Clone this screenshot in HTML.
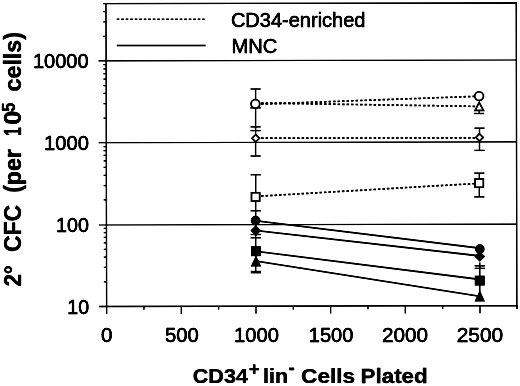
<!DOCTYPE html>
<html lang="en"><head><meta charset="utf-8"><title>CFC chart</title>
<style>html,body{margin:0;padding:0;background:#fff}svg{display:block}</style>
</head><body>
<svg width="520" height="386" viewBox="0 0 520 386">
<defs><filter id="scan" x="0" y="0" width="520" height="386" filterUnits="userSpaceOnUse" color-interpolation-filters="sRGB"><feGaussianBlur stdDeviation="0.45"/><feComponentTransfer><feFuncA type="linear" slope="1.35" intercept="0"/></feComponentTransfer></filter></defs>
<rect width="520" height="386" fill="#fff"/>
<g filter="url(#scan)">
<g transform="rotate(-0.126 311 155)">
<g fill="none" stroke="#000" stroke-width="1.3" stroke-linecap="butt">
<path d="M103.3 3.25H516.55V309.25M106.3 3.25V313.55M98.8 306.05H516.55"/>
</g>
<g fill="none" stroke="#000" stroke-width="1.1">
<line x1="98.7" y1="224.58" x2="516.55" y2="224.58"/>
<line x1="98.7" y1="142.32" x2="516.55" y2="142.32"/>
<line x1="98.7" y1="60.45" x2="516.55" y2="60.45"/>
</g>
<g fill="none" stroke="#000" stroke-width="1.25">
<line x1="103.6" y1="281.41" x2="106.3" y2="281.41"/>
<line x1="103.6" y1="266.99" x2="106.3" y2="266.99"/>
<line x1="103.6" y1="256.76" x2="106.3" y2="256.76"/>
<line x1="103.6" y1="248.83" x2="106.3" y2="248.83"/>
<line x1="103.6" y1="242.35" x2="106.3" y2="242.35"/>
<line x1="103.6" y1="236.86" x2="106.3" y2="236.86"/>
<line x1="103.6" y1="232.12" x2="106.3" y2="232.12"/>
<line x1="103.6" y1="227.93" x2="106.3" y2="227.93"/>
<line x1="103.6" y1="199.54" x2="106.3" y2="199.54"/>
<line x1="103.6" y1="185.12" x2="106.3" y2="185.12"/>
<line x1="103.6" y1="174.89" x2="106.3" y2="174.89"/>
<line x1="103.6" y1="166.96" x2="106.3" y2="166.96"/>
<line x1="103.6" y1="160.48" x2="106.3" y2="160.48"/>
<line x1="103.6" y1="155.00" x2="106.3" y2="155.00"/>
<line x1="103.6" y1="150.25" x2="106.3" y2="150.25"/>
<line x1="103.6" y1="146.06" x2="106.3" y2="146.06"/>
<line x1="103.6" y1="117.67" x2="106.3" y2="117.67"/>
<line x1="103.6" y1="103.26" x2="106.3" y2="103.26"/>
<line x1="103.6" y1="93.03" x2="106.3" y2="93.03"/>
<line x1="103.6" y1="85.09" x2="106.3" y2="85.09"/>
<line x1="103.6" y1="78.61" x2="106.3" y2="78.61"/>
<line x1="103.6" y1="73.13" x2="106.3" y2="73.13"/>
<line x1="103.6" y1="68.38" x2="106.3" y2="68.38"/>
<line x1="103.6" y1="64.20" x2="106.3" y2="64.20"/>
<line x1="103.6" y1="35.81" x2="106.3" y2="35.81"/>
<line x1="103.6" y1="21.39" x2="106.3" y2="21.39"/>
<line x1="103.6" y1="11.16" x2="106.3" y2="11.16"/>
<line x1="143.63" y1="306.05" x2="143.63" y2="309.4"/>
<line x1="180.97" y1="306.05" x2="180.97" y2="313.6"/>
<line x1="218.31" y1="306.05" x2="218.31" y2="309.4"/>
<line x1="255.64" y1="306.05" x2="255.64" y2="313.6"/>
<line x1="292.98" y1="306.05" x2="292.98" y2="309.4"/>
<line x1="330.31" y1="306.05" x2="330.31" y2="313.6"/>
<line x1="367.65" y1="306.05" x2="367.65" y2="309.4"/>
<line x1="404.98" y1="306.05" x2="404.98" y2="313.6"/>
<line x1="442.31" y1="306.05" x2="442.31" y2="309.4"/>
<line x1="479.65" y1="306.05" x2="479.65" y2="313.6"/>
<line x1="516.99" y1="306.05" x2="516.99" y2="309.4"/>
</g>
</g>
<g fill="none" stroke="#000">
<line x1="116.8" y1="19.2" x2="204.6" y2="19.2" stroke-width="1.6" stroke-dasharray="2.5 2.0"/>
<line x1="116.8" y1="45.5" x2="205.6" y2="45.5" stroke-width="1.5"/>
</g>
<g fill="none" stroke="#000" stroke-width="1.3">
<line x1="255.6" y1="89" x2="255.6" y2="156"/>
<line x1="250.5" y1="89" x2="260.7" y2="89"/>
<line x1="250.5" y1="126.9" x2="260.7" y2="126.9"/>
<line x1="250.5" y1="130.6" x2="260.7" y2="130.6"/>
<line x1="250.5" y1="156.0" x2="260.7" y2="156.0"/>
<line x1="255.7" y1="174.75" x2="255.7" y2="272"/>
<line x1="250.6" y1="174.75" x2="260.8" y2="174.75"/>
<line x1="250.6" y1="210.8" x2="260.8" y2="210.8"/>
<line x1="250.6" y1="234.5" x2="260.8" y2="234.5"/>
<line x1="250.6" y1="237.8" x2="260.8" y2="237.8"/>
<line x1="250.8" y1="272.1" x2="261.0" y2="272.1" stroke-width="2.5"/>
<line x1="479.3" y1="106" x2="479.3" y2="113.5"/>
<line x1="474.0" y1="113.5" x2="484.2" y2="113.5"/>
<line x1="479.5" y1="128.1" x2="479.5" y2="150.4"/>
<line x1="474.4" y1="128.1" x2="484.6" y2="128.1"/>
<line x1="474.4" y1="150.4" x2="484.6" y2="150.4"/>
<line x1="479.3" y1="173.1" x2="479.3" y2="196.9"/>
<line x1="474.2" y1="173.1" x2="484.4" y2="173.1"/>
<line x1="474.2" y1="196.9" x2="484.4" y2="196.9"/>
<line x1="479.8" y1="262.5" x2="479.8" y2="296"/>
<line x1="474.7" y1="265.9" x2="484.9" y2="265.9"/>
<line x1="474.7" y1="268.35" x2="484.9" y2="268.35"/>
</g>
<g fill="none" stroke="#000">
<line x1="255.6" y1="104.3" x2="479.5" y2="96.2" stroke-width="1.7" stroke-dasharray="2.5 2.0" stroke-dashoffset="-1"/>
<line x1="255.6" y1="103.0" x2="479.5" y2="106.4" stroke-width="1.7" stroke-dasharray="2.5 2.0" stroke-dashoffset="-1"/>
<line x1="255.6" y1="138.1" x2="479.5" y2="137.9" stroke-width="1.7" stroke-dasharray="2.5 2.0" stroke-dashoffset="-1"/>
<line x1="255.6" y1="196.4" x2="479.5" y2="183.3" stroke-width="1.7" stroke-dasharray="2.5 2.0" stroke-dashoffset="-1"/>
<line x1="255.6" y1="220.7" x2="479.5" y2="248.1" stroke-width="1.65"/>
<line x1="255.6" y1="230.5" x2="479.5" y2="255.9" stroke-width="1.65"/>
<line x1="255.6" y1="251.3" x2="479.5" y2="279.4" stroke-width="1.65"/>
<line x1="255.6" y1="261.0" x2="479.5" y2="296.2" stroke-width="1.65"/>
</g>
<path d="M255.5 100.00L259.60 107.70L251.40 107.70Z" fill="#fff" stroke="#000" stroke-width="1.75" stroke-linejoin="miter"/>
<path d="M479.2 102.70L483.30 110.40L475.10 110.40Z" fill="#fff" stroke="#000" stroke-width="1.75" stroke-linejoin="miter"/>
<circle cx="255.4" cy="103.8" r="4.3" fill="#fff" stroke="#000" stroke-width="1.75"/>
<circle cx="479.1" cy="96.1" r="4.3" fill="#fff" stroke="#000" stroke-width="1.75"/>
<path d="M255.7 134.7L259.3 138.25L255.7 141.8L252.1 138.25Z" fill="#fff" stroke="#000" stroke-width="1.75"/>
<path d="M479.5 133.8L483.1 137.4L479.5 141.0L475.9 137.4Z" fill="#fff" stroke="#000" stroke-width="1.75"/>
<rect x="251.55" y="192.85" width="8.1" height="8.1" fill="#fff" stroke="#000" stroke-width="1.75"/>
<rect x="475.15" y="179.05" width="8.1" height="8.1" fill="#fff" stroke="#000" stroke-width="1.75"/>
<circle cx="255.6" cy="220.6" r="4.15" fill="#000" stroke="#000" stroke-width="1.3"/>
<circle cx="479.8" cy="249.05" r="4.15" fill="#000" stroke="#000" stroke-width="1.3"/>
<path d="M255.8 226.2L260.2 230.6L255.8 235.0L251.4 230.6Z" fill="#000" stroke="#000" stroke-width="1.3"/>
<path d="M479.8 252.1L484.2 256.5L479.8 260.9L475.4 256.5Z" fill="#000" stroke="#000" stroke-width="1.3"/>
<rect x="251.70" y="246.90" width="8.6" height="8.6" fill="#000" stroke="#000" stroke-width="1.3"/>
<rect x="475.45" y="276.30" width="8.6" height="8.6" fill="#000" stroke="#000" stroke-width="1.3"/>
<path d="M256.0 256.90L260.20 265.95L251.80 265.95Z" fill="#000" stroke="#000" stroke-width="1.3" stroke-linejoin="miter"/>
<path d="M479.8 291.80L483.95 300.85L475.55 300.85Z" fill="#000" stroke="#000" stroke-width="1.3" stroke-linejoin="miter"/>
<g font-family="'Liberation Sans', Arial, Helvetica, sans-serif" fill="#000" stroke="#000" stroke-width="0.45" stroke-linejoin="round">
<text transform="translate(32.89 67.9) scale(1.0139 1)" font-size="19.8">10000</text>
<text transform="translate(44.09 149.85) scale(1.0173 1)" font-size="19.8">1000</text>
<text transform="translate(56.02 231.85) scale(0.9939 1)" font-size="19.8">100</text>
<text transform="translate(67.28 313.9) scale(0.9874 1)" font-size="19.8">10</text>
<text transform="translate(101.07 341.9) scale(1.0420 1)" font-size="19.8">0</text>
<text transform="translate(164.94 341.9) scale(1.0244 1)" font-size="19.8">500</text>
<text transform="translate(234.09 341.9) scale(1.0173 1)" font-size="19.8">1000</text>
<text transform="translate(308.75 341.9) scale(1.0113 1)" font-size="19.8">1500</text>
<text transform="translate(382.07 341.9) scale(1.0444 1)" font-size="19.8">2000</text>
<text transform="translate(456.71 341.9) scale(1.0527 1)" font-size="19.8">2500</text>
<text transform="translate(230.90 26.9) scale(1.0220 1)" font-size="19.6">CD34-enriched</text>
<text transform="translate(231.49 53.3) scale(1.0275 1)" font-size="19.6">MNC</text>
<text transform="translate(192.74 383.4) scale(1.0797 1)" font-size="20.0" font-weight="bold" stroke-width="0.25">CD34</text>
<text transform="translate(248.65 374.7) scale(0.9901 1)" font-size="19.0" font-weight="bold" stroke-width="0.25">+</text>
<text transform="translate(263.00 383.4) scale(1.0749 1)" font-size="20.0" font-weight="bold" stroke-width="0.25">lin</text>
<text transform="translate(288.55 373.6) scale(1.0458 1)" font-size="18.0" font-weight="bold" stroke-width="0.25">-</text>
<text transform="translate(301.10 383.4) scale(1.1310 1)" font-size="20.0" font-weight="bold" stroke-width="0.25">Cells</text>
<text transform="translate(360.54 383.4) scale(1.1193 1)" font-size="20.0" font-weight="bold" stroke-width="0.25">Plated</text>
<text transform="translate(20.9 286.58) rotate(-90) scale(1.0920 1.14)" font-size="20.5" font-weight="bold" stroke-width="0.25">2°</text>
<text transform="translate(20.9 252.12) rotate(-90) scale(1.1206 1.14)" font-size="20.5" font-weight="bold" stroke-width="0.25">CFC</text>
<text transform="translate(20.9 192.86) rotate(-90) scale(1.1280 1.14)" font-size="20.5" font-weight="bold" stroke-width="0.25">(per</text>
<text transform="translate(20.9 135.92) rotate(-90) scale(0.7658 1.14)" font-size="20.5" font-weight="bold" stroke-width="0.25">1</text>
<text transform="translate(20.9 124.81) rotate(-90) scale(1.2323 1.14)" font-size="20.5" font-weight="bold" stroke-width="0.25">0</text>
<text transform="translate(14.7 111.79) rotate(-90) scale(1.0452 1.2)" font-size="15.5" font-weight="bold" stroke-width="0.25">5</text>
<text transform="translate(20.9 91.43) rotate(-90) scale(1.1339 1.14)" font-size="20.5" font-weight="bold" stroke-width="0.25">cells)</text>
</g>
</g>
</svg>
</body></html>
